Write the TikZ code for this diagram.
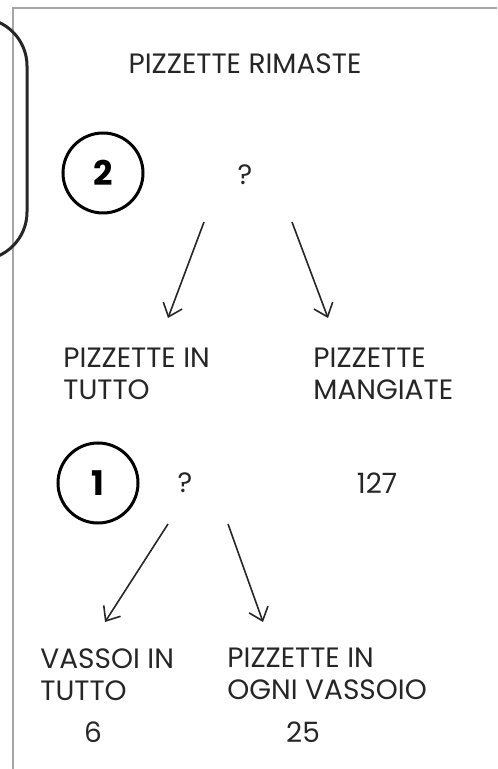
\documentclass[tikz,border=0pt]{standalone}
\usepackage{fontspec}
\setmainfont{Poppins}
\usetikzlibrary{arrows.meta}

\tikzset{
	label/.style={anchor=north west, inner sep=0pt, align=left, font=\fontsize{14}{16}\selectfont, text=black!85},
	val/.style={inner sep=0pt, font=\fontsize{14}{16}\selectfont, text=black!85},
	step circle/.style={shape=circle, draw, line width=1.5pt, minimum size=40pt, inner sep=0pt, font=\fontsize{17}{17}\selectfont\bfseries},
	pointer/.style={-{Straight Barb[length=6pt, width=10pt]}, line width=0.8pt, black!85}
}

\begin{document}
\begin{tikzpicture}[x=0.5pt, y=-0.5pt]
	\useasboundingbox (0,0) rectangle (497,769);
	\clip (0,0) rectangle (497,769);

	% frame and side tab
	\draw[black!35, line width=0.8pt] (13,769) -- (13,8) -- (497,8);
	\draw[black!85, line width=1.5pt, rounded corners=24pt] (-80,18) rectangle (27,260);

	% step 2
	\node[val] (rimaste) at (245,64) {PIZZETTE RIMASTE};
	\node[step circle] (c2) at (103,173) {2};
	\node[val] (q2) at (245,175) {?};
	\node[label] (intutto) at (63,348) {PIZZETTE IN\\TUTTO};
	\node[label] (mangiate) at (313,348) {PIZZETTE\\MANGIATE};

	\coordinate (a) at (204,222);
	\coordinate (b) at (168,318);
	\coordinate (c) at (292,222);
	\coordinate (d) at (328,318);

	% step 1
	\node[step circle] (c1) at (98,483) {1};
	\node[val] (q1) at (185,483) {?};
	\node[val] (n127) at (377,483) {127};
	\node[label] (vassoi) at (40,648) {VASSOI IN\\TUTTO};
	\node[label] (ogni) at (227,648) {PIZZETTE IN\\OGNI VASSOIO};
	\node[val] (n6) at (93,732) {6};
	\node[val] (n25) at (303,732) {25};

	\coordinate (e) at (168,524);
	\coordinate (f) at (105,622);
	\coordinate (g) at (228,524);
	\coordinate (h) at (263,622);

	\path [pointer]
	(a) edge (b)
	(c) edge (d)
	(e) edge (f)
	(g) edge (h);
\end{tikzpicture}
\end{document}
